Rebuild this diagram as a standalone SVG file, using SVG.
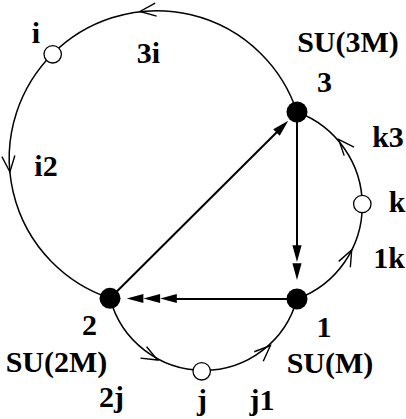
<svg xmlns="http://www.w3.org/2000/svg" xmlns:xlink="http://www.w3.org/1999/xlink" width="406" height="419" viewBox="0 0 406 419">
<style>
.arc{fill:none;stroke:#000;stroke-width:1.5}
.ln{fill:none;stroke:#000;stroke-width:2}
.v{fill:none;stroke:#000;stroke-width:1.4}
.fa{fill:#000;stroke:none}
.site{fill:#000}
.flav{fill:#fff;stroke:#000;stroke-width:1.3}
text{font-family:"Liberation Serif","Times New Roman",serif;font-weight:bold;font-size:30px;fill:#000;text-anchor:middle}
</style>
<defs>
<path id="open" d="M -16,-6.5 L 0,0 L -16,6.5"/>
<path id="fill" d="M 0,0 L -16.7,-4.6 L -16.7,4.6 Z"/>
</defs>
<rect width="406" height="419" fill="#fff"/>
<g id="connectors">
<path class="arc" d="M 297,112 A 147.6 147.6 0 1 0 110,298.3"/>
<path class="arc" d="M 297,112 A 99.6 99.6 0 0 1 297,299"/>
<path class="arc" d="M 110,298.3 A 96.8 96.8 0 0 0 297,299"/>
<use href="#open" class="v" transform="translate(140,11.5) rotate(173.5)"/>
<use href="#open" class="v" transform="translate(9.9,172) rotate(84.6)"/>
<use href="#open" class="v" transform="translate(338.6,139.3) rotate(-131.1)"/>
<use href="#open" class="v" transform="translate(351.7,250) rotate(-63.4)"/>
<use href="#open" class="v" transform="translate(157.6,360) rotate(28.3)"/>
<use href="#open" class="v" transform="translate(270.4,345.5) rotate(-43.4)"/>
<line class="ln" x1="110" y1="298.3" x2="278" y2="131"/>
<use href="#fill" class="fa" transform="translate(288.3,120.7) rotate(-44.85)"/>
<line class="ln" x1="297" y1="112" x2="297" y2="250"/>
<use href="#fill" class="fa" transform="translate(297,262) rotate(90)"/>
<use href="#fill" class="fa" transform="translate(297,280) rotate(90)"/>
<line class="ln" x1="297" y1="299" x2="170" y2="299"/>
<use href="#fill" class="fa" transform="translate(126.7,298.5) rotate(180)"/>
<use href="#fill" class="fa" transform="translate(143.4,298.5) rotate(180)"/>
<use href="#fill" class="fa" transform="translate(160.1,298.5) rotate(180)"/>
</g>
<g id="node3"><circle class="site" cx="297" cy="112" r="10.5"/><text x="348" y="52">SU(3M)</text><text x="324.5" y="92">3</text></g>
<g id="node1"><circle class="site" cx="297" cy="299" r="10.5"/><text x="324" y="337">1</text><text x="330" y="373">SU(M)</text></g>
<g id="node2"><circle class="site" cx="110" cy="298.3" r="10.5"/><text x="89.5" y="335">2</text><text x="56.5" y="372">SU(2M)</text></g>
<g id="nodei"><circle class="flav" cx="52.7" cy="54.3" r="8.7"/><text x="36" y="43">i</text></g>
<g id="nodek"><circle class="flav" cx="362.3" cy="204" r="8.7"/><text x="397" y="212">k</text></g>
<g id="nodej"><circle class="flav" cx="201.7" cy="371.3" r="8.7"/><text x="202" y="410">j</text></g>
<g id="labels">
<text x="148.5" y="63">3i</text>
<text x="46" y="176">i2</text>
<text x="388" y="147">k3</text>
<text x="389" y="268">1k</text>
<text x="111.5" y="407">2j</text>
<text x="262" y="410">j1</text>
</g>
</svg>
